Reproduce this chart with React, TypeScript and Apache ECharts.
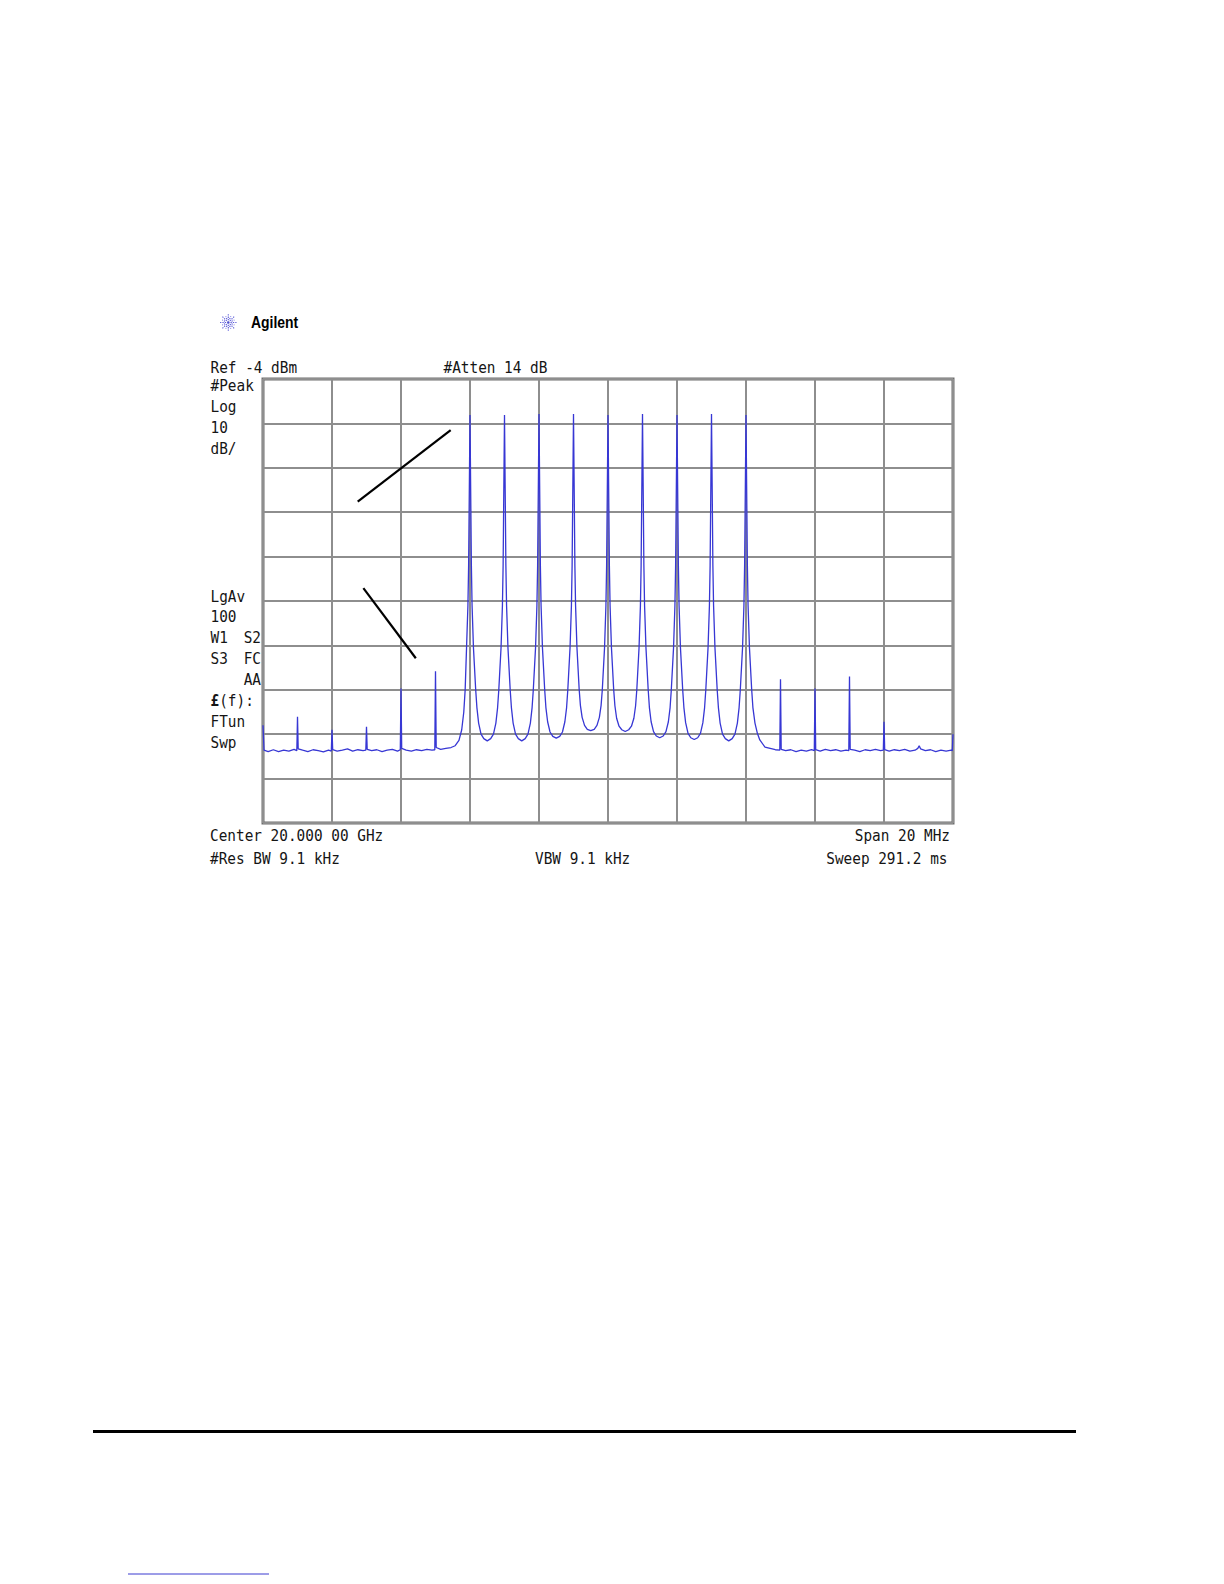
import React, { useEffect, useRef } from "react";
import * as echarts from "echarts";

const REF_LEVEL = -4; // dBm, top of screen
const DB_PER_DIV = 10;
const X_MIN = -10; // MHz offset from 20.000 00 GHz
const X_MAX = 10;
const X_DIV = 2;

// trace: [frequency offset MHz, level dBm]
const TRACE: [number, number][] = [
  [-10.0, -82.0], [-9.97, -87.6], [-9.85, -87.9], [-9.7, -87.5], [-9.55, -87.9], [-9.4, -87.6],
  [-9.25, -87.8], [-9.1, -87.4], [-9.02, -87.7], [-9.01, -84.2], [-9.0, -80.1], [-8.98, -87.3],
  [-8.85, -87.6], [-8.7, -87.9], [-8.55, -87.5], [-8.4, -87.7], [-8.25, -88.0], [-8.1, -87.6],
  [-8.02, -87.8], [-8.01, -85.5], [-8.0, -83.0], [-7.98, -87.5], [-7.85, -87.8], [-7.7, -87.6],
  [-7.55, -87.3], [-7.4, -87.8], [-7.25, -87.5], [-7.1, -87.7], [-7.02, -87.6], [-7.01, -85.0],
  [-7.0, -82.3], [-6.98, -87.4], [-6.85, -87.7], [-6.7, -87.5], [-6.55, -87.9], [-6.4, -87.6],
  [-6.25, -87.4], [-6.1, -87.8], [-6.02, -87.5], [-6.01, -80.6], [-6.0, -73.7], [-5.98, -87.2],
  [-5.85, -87.6], [-5.7, -87.8], [-5.55, -87.5], [-5.4, -87.7], [-5.25, -87.4], [-5.1, -87.6],
  [-5.02, -87.5], [-5.01, -78.5], [-5.0, -69.8], [-4.98, -87.0], [-4.85, -87.4], [-4.7, -87.2],
  [-4.55, -87.0], [-4.43, -86.6], [-4.32, -85.4], [-4.24, -83.0], [-4.18, -79.0], [-4.14, -74.0],
  [-4.1, -64.5], [-4.06, -55.0], [-4.04, -46.0], [-4.0, -12.1],
  [-3.96, -46], [-3.94, -55], [-3.9, -64.5], [-3.835, -74], [-3.8, -78], [-3.75, -81.5], [-3.68, -84.0],
  [-3.6, -85.0], [-3.5, -85.5], [-3.4, -85.0], [-3.32, -84.0], [-3.25, -81.5], [-3.2, -78], [-3.165, -74],
  [-3.1, -64.5], [-3.06, -55], [-3.04, -46], [-3.0, -12.1],
  [-2.96, -46], [-2.94, -55], [-2.9, -64.5], [-2.835, -74], [-2.8, -78], [-2.75, -81.5], [-2.68, -84.0],
  [-2.6, -85.0], [-2.5, -85.5], [-2.4, -85.0], [-2.32, -84.0], [-2.25, -81.5], [-2.2, -78], [-2.165, -74],
  [-2.1, -64.5], [-2.06, -55], [-2.04, -46], [-2.0, -11.9],
  [-1.96, -46], [-1.94, -55], [-1.9, -64.5], [-1.835, -74], [-1.8, -78], [-1.75, -81.2], [-1.68, -83.5],
  [-1.6, -84.5], [-1.5, -84.9], [-1.4, -84.5], [-1.32, -83.5], [-1.25, -81.2], [-1.2, -78], [-1.165, -74],
  [-1.1, -64.5], [-1.06, -55], [-1.04, -46], [-1.0, -11.9],
  [-0.96, -46], [-0.94, -55], [-0.9, -64.5], [-0.835, -74], [-0.8, -77.5], [-0.75, -80.2], [-0.68, -82.0],
  [-0.6, -82.9], [-0.5, -83.2], [-0.4, -82.9], [-0.32, -82.0], [-0.25, -80.2], [-0.2, -77.5], [-0.165, -74],
  [-0.1, -64.5], [-0.06, -55], [-0.04, -46], [0.0, -12.1],
  [0.04, -46], [0.06, -55], [0.1, -64.5], [0.165, -74], [0.2, -77.6], [0.25, -80.4], [0.32, -82.2],
  [0.4, -83.0], [0.5, -83.4], [0.6, -83.0], [0.68, -82.2], [0.75, -80.4], [0.8, -77.6], [0.835, -74],
  [0.9, -64.5], [0.94, -55], [0.96, -46], [1.0, -11.9],
  [1.04, -46], [1.06, -55], [1.1, -64.5], [1.165, -74], [1.2, -78], [1.25, -81.2], [1.32, -83.4],
  [1.4, -84.4], [1.5, -84.8], [1.6, -84.4], [1.68, -83.4], [1.75, -81.2], [1.8, -78], [1.835, -74],
  [1.9, -64.5], [1.94, -55], [1.96, -46], [2.0, -12.1],
  [2.04, -46], [2.06, -55], [2.1, -64.5], [2.165, -74], [2.2, -78], [2.25, -81.4], [2.32, -83.8],
  [2.4, -84.8], [2.5, -85.2], [2.6, -84.8], [2.68, -83.8], [2.75, -81.4], [2.8, -78], [2.835, -74],
  [2.9, -64.5], [2.94, -55], [2.96, -46], [3.0, -11.9],
  [3.04, -46], [3.06, -55], [3.1, -64.5], [3.165, -74], [3.2, -78], [3.25, -81.5], [3.32, -84.0],
  [3.4, -85.0], [3.5, -85.5], [3.6, -85.0], [3.68, -84.0], [3.75, -81.5], [3.8, -78], [3.835, -74],
  [3.9, -64.5], [3.94, -55], [3.96, -46], [4.0, -12.1],
  [4.04, -46], [4.06, -55], [4.1, -64.5], [4.165, -74], [4.2, -78], [4.26, -81.5], [4.33, -83.8],
  [4.4, -85.3], [4.55, -86.9], [4.7, -87.2], [4.85, -87.5], [4.98, -87.6],
  [4.99, -79.5], [5.0, -71.6], [5.02, -87.4], [5.15, -87.7], [5.3, -87.5], [5.45, -87.9], [5.6, -87.6],
  [5.75, -87.8], [5.9, -87.5], [5.98, -87.7], [5.99, -80.6], [6.0, -73.7], [6.02, -87.5], [6.15, -87.8],
  [6.3, -87.4], [6.45, -87.7], [6.6, -87.5], [6.75, -87.8], [6.9, -87.6], [6.98, -87.7], [6.99, -79.2],
  [7.0, -71.0], [7.02, -87.4], [7.15, -87.6], [7.3, -87.9], [7.45, -87.5], [7.6, -87.7], [7.75, -87.4],
  [7.9, -87.7], [7.98, -87.6], [7.99, -84.5], [8.0, -81.2], [8.02, -87.5], [8.15, -87.8], [8.3, -87.5],
  [8.45, -87.7], [8.6, -87.4], [8.75, -87.8], [8.9, -87.6], [8.98, -87.2], [9.02, -86.6], [9.06, -87.3],
  [9.2, -87.7], [9.35, -87.5], [9.5, -87.9], [9.65, -87.6], [9.8, -87.8], [9.95, -87.6], [9.98, -87.7],
  [10.0, -84.0],
];

// annotation pointer lines: [[MHz, dBm], [MHz, dBm]]
const POINTER_LINES: [number, number][][] = [
  [[-7.255, -31.6], [-4.56, -15.5]],
  [[-7.09, -51.1], [-5.57, -66.9]],
];

const BRAND = "Agilent";
const TOP_LEFT_TEXT = "Ref -4 dBm";
const TOP_MID_TEXT = "#Atten 14 dB";
const SIDE_UPPER = ["#Peak", "Log", "10", "dB/"];
const SIDE_LOWER = ["LgAv", "100", "W1", "S3", "", "{b|£}(f):", "FTun", "Swp"];
const SIDE_LOWER_RIGHT = ["", "", "S2", "FC", "AA", "", "", ""];
const BOTTOM_ROW1 = ["Center 20.000 00 GHz", "Span 20 MHz"];
const BOTTOM_ROW2 = ["#Res BW 9.1 kHz", "VBW 9.1 kHz", "Sweep 291.2 ms"];

// ---------- layout ----------
const GRID = { left: 263, top: 379, width: 690, height: 444 };
const MONO = "'DejaVu Sans Mono', monospace";
const FS = 14.4;
const SY = 1.16;
const TXT = "#151515";
const ROW = 20.9;

function mono(text: string, x: number, y: number, align: string = "left"): any {
  return {
    type: "text",
    x,
    y,
    scaleY: SY,
    silent: true,
    style: {
      text,
      fontFamily: MONO,
      fontSize: FS,
      fill: TXT,
      textAlign: align,
      align,
      textVerticalAlign: "middle",
      verticalAlign: "middle",
      rich: {
        b: { fontFamily: MONO, fontSize: FS, fontWeight: "bold", fill: TXT },
      },
    },
  };
}

function buildGraphics(): any[] {
  const g: any[] = [];
  // Agilent spark logo
  const cx = 228.3;
  const cy = 322.5;
  for (let k = 0; k < 16; k++) {
    const a = (k * Math.PI) / 8;
    const r0 = k % 2 === 0 ? 2.2 : 3.5;
    const r1 = k % 2 === 0 ? 8.2 : 6.6;
    g.push({
      type: "line",
      silent: true,
      shape: {
        x1: cx + r0 * Math.cos(a),
        y1: cy + r0 * Math.sin(a),
        x2: cx + r1 * Math.cos(a),
        y2: cy + r1 * Math.sin(a),
      },
      style: { stroke: "#5a5ad8", lineWidth: 1.1, lineDash: [1.3, 1.1] },
    });
  }
  g.push({ type: "circle", silent: true, shape: { cx, cy, r: 1.3 }, style: { fill: "#5050d0" } });
  g.push({
    type: "text",
    x: 251,
    y: 321.8,
    scaleX: 0.87,
    silent: true,
    style: {
      text: BRAND,
      fontFamily: "'Liberation Sans', Arial, sans-serif",
      fontWeight: "bold",
      fontSize: 16,
      fill: "#000",
      textAlign: "left",
      align: "left",
      textVerticalAlign: "middle",
      verticalAlign: "middle",
    },
  });

  // header
  g.push(mono(TOP_LEFT_TEXT, 210.5, 368));
  g.push(mono(TOP_MID_TEXT, 443.5, 368));

  // side annotations
  SIDE_UPPER.forEach((t, i) => g.push(mono(t, 210.5, 385.8 + i * ROW)));
  SIDE_LOWER.forEach((t, i) => {
    if (t) g.push(mono(t, 210.5, 596.2 + i * ROW));
  });
  SIDE_LOWER_RIGHT.forEach((t, i) => {
    if (t) g.push(mono(t, 261, 596.2 + i * ROW, "right"));
  });

  // footer
  g.push(mono(BOTTOM_ROW1[0], 210, 835.5));
  g.push(mono(BOTTOM_ROW1[1], 950, 835.5, "right"));
  g.push(mono(BOTTOM_ROW2[0], 210, 858.5));
  g.push(mono(BOTTOM_ROW2[1], 535, 858.5));
  g.push(mono(BOTTOM_ROW2[2], 947.5, 858.5, "right"));

  // page rules
  g.push({
    type: "line",
    silent: true,
    shape: { x1: 93, y1: 1431.5, x2: 1076, y2: 1431.5 },
    style: { stroke: "#000", lineWidth: 3 },
  });
  g.push({
    type: "line",
    silent: true,
    shape: { x1: 128, y1: 1574, x2: 269, y2: 1574 },
    style: { stroke: "#3a3ad0", lineWidth: 1 },
  });
  return g;
}

export default function App() {
  const ref = useRef<HTMLDivElement>(null);

  useEffect(() => {
    if (!ref.current) return;
    const chart = echarts.init(ref.current, undefined, { renderer: "svg" });
    const rel = (v: number) => v - REF_LEVEL;
    const option: any = {
      animation: false,
      backgroundColor: "#ffffff",
      grid: {
        ...GRID,
        show: true,
        borderColor: "#6e6e6e",
        borderWidth: 3,
        backgroundColor: "transparent",
        containLabel: false,
      },
      xAxis: {
        type: "value",
        min: X_MIN,
        max: X_MAX,
        interval: X_DIV,
        axisLine: { show: false },
        axisTick: { show: false },
        axisLabel: { show: false },
        splitLine: { show: true, lineStyle: { color: "#8e8e8e", width: 2 } },
      },
      yAxis: {
        type: "value",
        min: -10 * DB_PER_DIV,
        max: 0,
        interval: DB_PER_DIV,
        axisLine: { show: false },
        axisTick: { show: false },
        axisLabel: { show: false },
        splitLine: { show: true, lineStyle: { color: "#8e8e8e", width: 2 } },
      },
      series: [
        {
          type: "line",
          data: TRACE.map(([f, l]) => [f, rel(l)]),
          showSymbol: false,
          symbol: "none",
          silent: true,
          clip: true,
          lineStyle: { color: "#3737d4", width: 1.3 },
          markLine: {
            silent: true,
            symbol: ["none", "none"],
            label: { show: false },
            lineStyle: { color: "#000", width: 2.2, type: "solid" },
            emphasis: { disabled: true },
            data: POINTER_LINES.map(([a, b]) => [
              { coord: [a[0], rel(a[1])] },
              { coord: [b[0], rel(b[1])] },
            ]),
          },
        },
      ],
      graphic: { elements: buildGraphics() },
    };
    chart.setOption(option);
    return () => chart.dispose();
  }, []);

  return (
    <div
      ref={ref}
      style={{ position: "absolute", left: 0, top: 0, width: 1224, height: 1584, background: "#fff" }}
    />
  );
}
